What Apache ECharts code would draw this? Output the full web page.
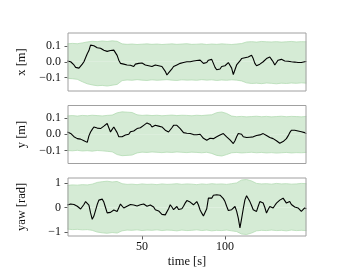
<!DOCTYPE html>
<html>
<head>
<meta charset="utf-8">
<script src="https://cdn.jsdelivr.net/npm/echarts@6/dist/echarts.min.js"></script>
<style>
html,body{margin:0;padding:0;background:#fff;}
#c{width:340px;height:272px;}
</style>
</head>
<body>
<div id="c"></div>
<script>
// ---- data ----
const lineStart = 5;          // first sample time [s], 1 s apart
const bandStart = 5;          // first band sample time [s], 3 s apart
const bandStep = 3;

const xMean = [0.005,0.003,0.0,-0.01,-0.02,-0.035,-0.047,-0.04,-0.03,-0.015,
0.0,0.025,0.05,0.07,0.104,0.095,0.1,0.092,0.088,0.08,
0.085,0.075,0.072,0.078,0.065,0.06,0.07,0.066,0.073,0.07,
0.04,0.01,-0.01,-0.005,-0.015,-0.01,-0.02,-0.012,-0.022,-0.02,
-0.03,-0.015,-0.02,-0.01,-0.018,-0.008,-0.01,-0.02,-0.015,-0.025,
-0.02,-0.03,-0.027,-0.02,-0.028,-0.025,-0.035,-0.03,-0.04,-0.06,
-0.083,-0.07,-0.062,-0.045,-0.03,-0.035,-0.02,-0.015,-0.01,-0.015,
-0.005,-0.01,0.0,0.005,0.0,-0.005,0.005,0.0,0.008,0.005,
0.01,0.0,-0.01,-0.02,-0.005,0.01,0.02,0.015,-0.01,-0.035,
-0.05,-0.04,-0.045,-0.03,-0.035,-0.025,-0.015,-0.005,0.0,-0.04,
-0.08,-0.05,-0.02,-0.01,0.005,0.02,0.015,0.025,0.02,0.03,
0.035,0.04,0.02,-0.01,-0.025,-0.03,-0.015,-0.005,0.0,0.01,
0.02,0.025,0.03,0.015,0.0,-0.02,-0.005,0.01,0.02,0.015,
0.012,0.005,0.01,0.003,0.006,0.0,0.004,-0.002,0.0,-0.005,
-0.01,-0.005,-0.008,0.0,0.002];

const yMean = [0.014,0.01,0.005,-0.005,-0.015,-0.025,-0.027,-0.032,-0.03,-0.037,
-0.04,-0.035,-0.05,-0.01,0.014,0.03,0.045,0.04,0.038,0.045,
0.035,0.04,0.05,0.058,0.066,0.04,0.014,0.03,0.045,0.04,
0.01,-0.015,-0.027,-0.015,-0.02,-0.005,0.004,0.0,0.015,0.025,
0.02,0.03,0.035,0.045,0.04,0.05,0.055,0.065,0.07,0.076,
0.06,0.045,0.05,0.055,0.045,0.05,0.055,0.045,0.035,0.025,
0.02,0.014,0.025,0.04,0.055,0.066,0.055,0.045,0.035,0.025,
0.01,0.004,0.006,0.0,0.005,0.004,-0.002,0.004,-0.003,-0.005,
0.0,-0.01,-0.025,-0.03,-0.037,-0.03,-0.025,-0.03,-0.027,-0.02,
-0.016,-0.012,-0.005,0.0,0.004,-0.005,-0.016,-0.025,-0.035,-0.047,
-0.057,-0.04,-0.015,0.005,0.014,0.0,-0.015,-0.027,-0.02,-0.022,
-0.018,-0.02,-0.016,-0.012,-0.008,-0.01,-0.004,0.0,0.004,-0.005,
-0.008,-0.015,-0.02,-0.018,-0.027,-0.03,-0.04,-0.05,-0.055,-0.057,
-0.045,-0.035,-0.027,-0.01,0.01,0.025,0.02,0.025,0.014,0.02,
0.025,0.015,0.02,0.01,0.004];

const yawMean = [0.1,0.12,0.14,0.18,0.12,0.08,0.05,0.02,-0.06,-0.05,
0.12,0.24,0.3,0.1,-0.22,-0.48,-0.35,-0.12,0.12,0.3,
0.38,0.34,0.22,0.0,-0.22,-0.24,-0.2,-0.15,-0.1,-0.12,
-0.16,-0.08,0.14,0.1,-0.02,0.0,0.05,0.02,0.12,0.18,
0.1,0.05,0.06,0.1,0.11,0.08,0.14,0.16,0.05,-0.02,
0.1,0.18,0.02,-0.09,-0.12,-0.14,-0.17,-0.28,-0.36,-0.3,
-0.24,-0.05,0.11,0.02,-0.09,-0.02,0.04,-0.08,-0.16,-0.05,
0.05,0.18,0.28,0.31,0.22,0.14,0.11,0.18,0.24,0.1,
-0.1,-0.23,-0.35,-0.43,-0.05,0.38,0.35,0.38,0.5,0.58,
0.52,0.58,0.5,0.45,0.36,0.24,0.05,-0.12,-0.16,-0.09,
-0.02,0.04,-0.15,-0.43,-0.83,-0.45,-0.05,0.31,0.48,0.42,
0.24,0.08,-0.09,-0.12,-0.16,0.05,0.24,0.2,0.18,0.0,
-0.23,-0.08,0.04,0.0,-0.02,0.08,0.18,0.24,0.3,0.34,
0.38,0.28,0.18,0.22,0.24,0.12,0.04,0.02,0.0,-0.02,
-0.1,-0.16,-0.08,-0.02,-0.05];

const xUpper = [0.112,0.115,0.113,0.118,0.124,0.128,0.126,0.13,0.127,0.131,0.128,0.112,0.109,0.111,0.108,0.11,0.112,0.109,0.111,0.108,0.11,0.112,0.109,0.111,0.113,0.109,0.11,0.112,0.108,0.111,0.109,0.112,0.11,0.108,0.111,0.114,0.124,0.126,0.123,0.127,0.125,0.124,0.126,0.123,0.125,0.127,0.124,0.126,0.125];
const xLower = [-0.104,-0.106,-0.11,-0.125,-0.138,-0.145,-0.15,-0.148,-0.152,-0.147,-0.142,-0.118,-0.114,-0.116,-0.112,-0.115,-0.117,-0.113,-0.116,-0.114,-0.112,-0.115,-0.117,-0.113,-0.115,-0.114,-0.116,-0.112,-0.115,-0.113,-0.117,-0.114,-0.116,-0.113,-0.115,-0.12,-0.132,-0.136,-0.134,-0.137,-0.133,-0.135,-0.138,-0.134,-0.136,-0.133,-0.135,-0.132,-0.134];
const yUpper = [0.113,0.115,0.112,0.116,0.114,0.117,0.115,0.113,0.116,0.118,0.132,0.138,0.136,0.134,0.12,0.116,0.118,0.115,0.117,0.114,0.116,0.118,0.115,0.117,0.116,0.114,0.117,0.115,0.118,0.12,0.133,0.137,0.128,0.112,0.108,0.11,0.107,0.109,0.111,0.108,0.11,0.107,0.109,0.111,0.108,0.11,0.109,0.107,0.11];
const yLower = [-0.1,-0.102,-0.099,-0.103,-0.101,-0.104,-0.1,-0.102,-0.105,-0.108,-0.125,-0.132,-0.13,-0.128,-0.115,-0.11,-0.112,-0.109,-0.111,-0.113,-0.11,-0.112,-0.109,-0.111,-0.113,-0.11,-0.112,-0.114,-0.111,-0.118,-0.13,-0.134,-0.125,-0.114,-0.112,-0.115,-0.113,-0.111,-0.114,-0.112,-0.115,-0.113,-0.116,-0.114,-0.112,-0.115,-0.113,-0.114,-0.112];
const yawUpper = [0.9,0.92,0.91,0.93,0.92,0.95,1.02,1.05,1.07,1.04,1.06,0.97,0.94,0.95,0.93,0.96,0.94,0.95,0.93,0.96,0.94,0.95,0.97,0.94,0.96,0.95,0.93,0.96,0.94,0.97,0.95,0.96,0.94,0.97,1.0,1.12,1.14,1.08,0.98,0.96,0.97,0.95,0.98,0.96,0.97,0.95,0.96,0.98,0.97];
const yawLower = [-0.88,-0.9,-0.89,-0.91,-0.9,-0.93,-1.0,-1.03,-1.05,-1.02,-1.04,-0.95,-0.92,-0.93,-0.91,-0.94,-0.92,-0.93,-0.91,-0.94,-0.92,-0.93,-0.95,-0.92,-0.94,-0.93,-0.91,-0.94,-0.92,-0.95,-0.93,-0.94,-0.92,-0.95,-0.98,-1.08,-1.1,-1.04,-0.95,-0.93,-0.94,-0.92,-0.94,-0.93,-0.95,-0.92,-0.94,-0.93,-0.94];

const timeTicks = [50, 100];
const xTicks = [-0.1, 0.0, 0.1];
const yTicks = [-0.1, 0.0, 0.1];
const yawTicks = [-1, 0, 1];
const yNames = ['x [m]', 'y [m]', 'yaw [rad]'];
const xName = 'time [s]';

// ---- chart ----
const FONT = 'Liberation Serif';
const fillColor = '#d5ebd5';
const edgeColor = '#acd8ac';
const tMin = 5.4, tMax = 148.8;

const panels = [
  {mean: xMean, up: xUpper, lo: xLower, ticks: xTicks, min: -0.183, max: 0.18, dec: 1},
  {mean: yMean, up: yUpper, lo: yLower, ticks: yTicks, min: -0.18, max: 0.177, dec: 1},
  {mean: yawMean, up: yawUpper, lo: yawLower, ticks: yawTicks, min: -1.16, max: 1.2, dec: 0}
];
const tops = [33, 105.5, 178];
const H = 58;

function fmt(v, dec) {
  const s = Math.abs(v).toFixed(dec);
  return (v < -1e-9 ? '\u2212' : '') + s;
}

const grids = [], xAxes = [], yAxes = [], series = [];
panels.forEach((p, i) => {
  grids.push({left: 68, right: 34, top: tops[i], height: H, show: true, z: 5,
    borderColor: '#a0a0a0', borderWidth: 1, backgroundColor: 'transparent'});
  const last = i === panels.length - 1;
  xAxes.push({type: 'value', gridIndex: i, min: tMin, max: tMax, position: 'bottom',
    axisLine: {show: false, onZero: false}, splitLine: {show: false},
    axisTick: {show: last, inside: false, length: 3.5, lineStyle: {color: '#333', width: 0.8}, customValues: timeTicks},
    axisLabel: {show: last, margin: 5, color: '#111', fontFamily: FONT, fontSize: 12, customValues: timeTicks},
    name: last ? xName : '', nameLocation: 'middle', nameGap: 19,
    nameTextStyle: {fontFamily: FONT, fontSize: 12.5, color: '#111'}});
  yAxes.push({type: 'value', gridIndex: i, min: p.min, max: p.max,
    axisLine: {show: false, onZero: false}, splitLine: {show: false},
    axisTick: {show: true, inside: false, length: 3.5, lineStyle: {color: '#333', width: 0.8}, customValues: p.ticks},
    axisLabel: {margin: 7, color: '#111', fontFamily: FONT, fontSize: 12, customValues: p.ticks,
      formatter: v => fmt(v, p.dec)},
    name: yNames[i], nameLocation: 'middle', nameGap: 40, nameRotate: 90,
    nameTextStyle: {fontFamily: FONT, fontSize: 12.5, color: '#111'}});
  const bt = p.up.map((_, k) => bandStart + k * bandStep);
  // upper edge filled down to zero, lower edge filled up to zero -> together the band
  series.push({type: 'line', xAxisIndex: i, yAxisIndex: i,
    data: p.up.map((v, k) => [bt[k], v]), showSymbol: false, symbol: 'none',
    lineStyle: {color: edgeColor, width: 0.7}, areaStyle: {color: fillColor, opacity: 1, origin: 'auto'}, silent: true, z: 1});
  series.push({type: 'line', xAxisIndex: i, yAxisIndex: i,
    data: p.lo.map((v, k) => [bt[k], v]), showSymbol: false, symbol: 'none',
    lineStyle: {color: edgeColor, width: 0.7}, areaStyle: {color: fillColor, opacity: 1, origin: 'auto'}, silent: true, z: 1});
  series.push({type: 'line', xAxisIndex: i, yAxisIndex: i,
    data: p.mean.map((v, k) => [lineStart + k, v]), showSymbol: false, symbol: 'none',
    lineStyle: {color: '#000', width: 1.1}, silent: true, z: 3});
});

const chart = echarts.init(document.getElementById('c'), null, {renderer: 'canvas'});
chart.setOption({animation: false, grid: grids, xAxis: xAxes, yAxis: yAxes, series: series});
</script>
</body>
</html>
